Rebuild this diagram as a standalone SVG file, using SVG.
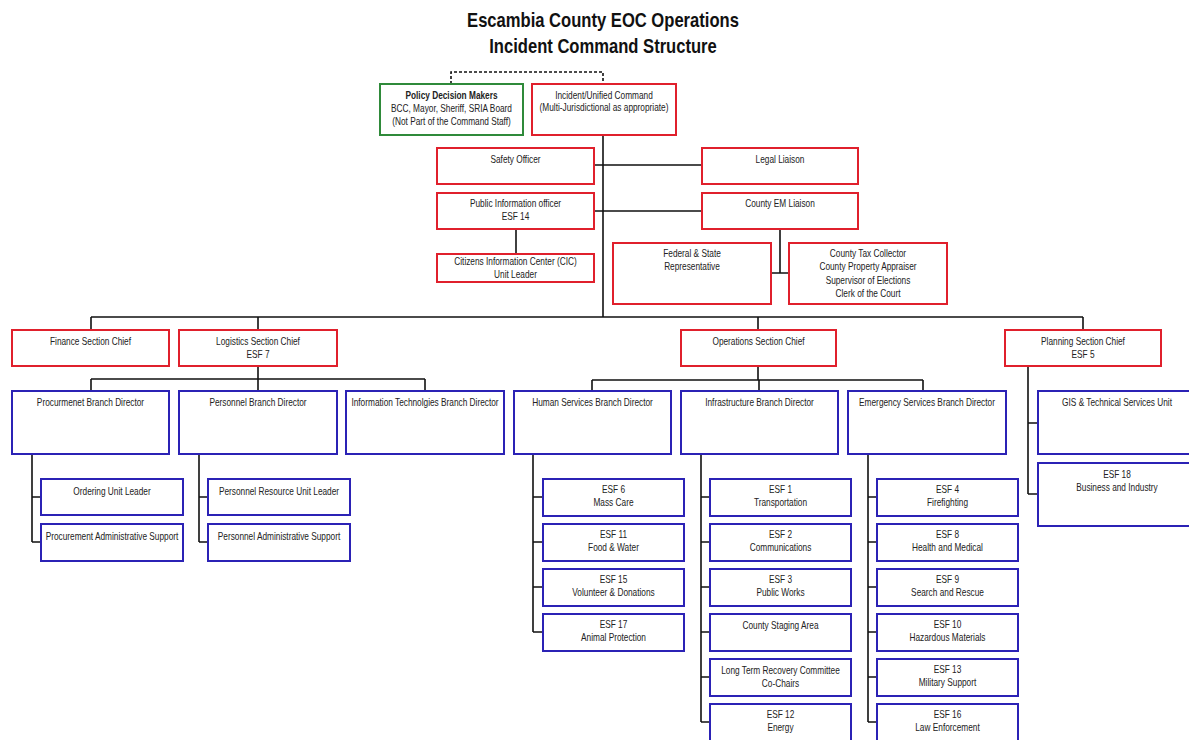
<svg xmlns="http://www.w3.org/2000/svg" width="1189" height="740" viewBox="0 0 1189 740">
<style>
  .t { font-family: "Liberation Sans", Arial, sans-serif; font-size: 10px; fill: #222; text-anchor: middle; }
  .h { font-family: "Liberation Sans", Arial, sans-serif; font-size: 20px; font-weight: bold; fill: #111; text-anchor: middle; }
  .bold { font-weight: bold; }
  .r { fill: #fff; stroke: #e0202c; stroke-width: 2; }
  .b { fill: #fff; stroke: #2b22b5; stroke-width: 2; }
  .g { fill: #fff; stroke: #2f8a3a; stroke-width: 2; }
  .c { fill: none; stroke: #111; stroke-width: 1.6; }
  .d { fill: none; stroke: #111; stroke-width: 1.6; stroke-dasharray: 3 2; }
</style>
<rect width="1189" height="740" fill="#fff"/>

<!-- heading -->
<g id="title">
  <text class="h" transform="translate(603 27) scale(.83 1)">Escambia County EOC Operations</text>
  <text class="h" transform="translate(603 53) scale(.83 1)">Incident Command Structure</text>
</g>

<!-- connector lines -->
<g id="connectors">
  <path class="d" d="M451 84 V72 H603 V84"/>
  <path class="c" d="M603 134 V317"/>
  <path class="c" d="M594 165 H702 M594 211 H702"/>
  <path class="c" d="M516 229 V254"/>
  <path class="c" d="M780 229 V273 M771 273 H789"/>
  <path class="c" d="M91 317 H1083 M91 317 V330 M258 317 V330 M758 317 V330 M1083 317 V330"/>
  <path class="c" d="M258 366 V379 M91 379 H425 M91 379 V391 M258 379 V391 M425 379 V391"/>
  <path class="c" d="M758 366 V380 M592 380 H923 M592 380 V391 M759 380 V391 M923 380 V391"/>
  <path class="c" d="M1028 366 V494 M1028 423 H1038 M1028 494 H1038"/>
  <path class="c" d="M32 454 V542 M32 497 H41 M32 542 H41"/>
  <path class="c" d="M199 454 V542 M199 497 H208 M199 542 H208"/>
  <path class="c" d="M533 454 V632 M533 497 H543 M533 542 H543 M533 587 H543 M533 632 H543"/>
  <path class="c" d="M701 454 V722 M701 497 H710 M701 542 H710 M701 587 H710 M701 632 H710 M701 677 H710 M701 722 H710"/>
  <path class="c" d="M868 454 V722 M868 497 H877 M868 542 H877 M868 587 H877 M868 632 H877 M868 677 H877 M868 722 H877"/>
</g>

<!-- command level -->
<g id="policy">
  <rect class="g" x="380" y="84" width="143" height="51"/>
  <text class="t" transform="translate(451.5 99) scale(.83 1)"><tspan x="0" class="bold">Policy Decision Makers</tspan><tspan x="0" dy="13">BCC, Mayor, Sheriff, SRIA Board</tspan><tspan x="0" dy="13">(Not Part of the Command Staff)</tspan></text>
</g>
<g id="incident-command">
  <rect class="r" x="532" y="84" width="144" height="51"/>
  <text class="t" transform="translate(604 99) scale(.83 1)"><tspan x="0">Incident/Unified Command</tspan><tspan x="0" dy="12.5">(Multi-Jurisdictional as appropriate)</tspan></text>
</g>
<g id="safety">
  <rect class="r" x="437" y="148" width="157" height="36"/>
  <text class="t" transform="translate(515.5 163) scale(.83 1)">Safety Officer</text>
</g>
<g id="legal">
  <rect class="r" x="702" y="148" width="156" height="36"/>
  <text class="t" transform="translate(780 163) scale(.83 1)">Legal Liaison</text>
</g>
<g id="pio">
  <rect class="r" x="437" y="193" width="157" height="36"/>
  <text class="t" transform="translate(515.5 207) scale(.83 1)"><tspan x="0">Public Information officer</tspan><tspan x="0" dy="13.5">ESF 14</tspan></text>
</g>
<g id="em-liaison">
  <rect class="r" x="702" y="193" width="156" height="36"/>
  <text class="t" transform="translate(780 207) scale(.83 1)">County EM Liaison</text>
</g>
<g id="cic">
  <rect class="r" x="437" y="254" width="157" height="28"/>
  <text class="t" transform="translate(515.5 265) scale(.83 1)"><tspan x="0">Citizens Information Center (CIC)</tspan><tspan x="0" dy="13">Unit Leader</tspan></text>
</g>
<g id="federal-state">
  <rect class="r" x="613" y="243" width="158" height="61"/>
  <text class="t" transform="translate(692 257) scale(.83 1)"><tspan x="0">Federal &amp; State</tspan><tspan x="0" dy="13.5">Representative</tspan></text>
</g>
<g id="county-officials">
  <rect class="r" x="789" y="243" width="158" height="61"/>
  <text class="t" transform="translate(868 257) scale(.83 1)"><tspan x="0">County Tax Collector</tspan><tspan x="0" dy="13.5">County Property Appraiser</tspan><tspan x="0" dy="13.5">Supervisor of Elections</tspan><tspan x="0" dy="13.5">Clerk of the Court</tspan></text>
</g>

<!-- section chiefs -->
<g id="finance">
  <rect class="r" x="12" y="330" width="157" height="36"/>
  <text class="t" transform="translate(90.5 345) scale(.83 1)">Finance Section Chief</text>
</g>
<g id="logistics">
  <rect class="r" x="179" y="330" width="158" height="36"/>
  <text class="t" transform="translate(258 345) scale(.83 1)"><tspan x="0">Logistics Section Chief</tspan><tspan x="0" dy="13.5">ESF 7</tspan></text>
</g>
<g id="operations">
  <rect class="r" x="681" y="330" width="155" height="36"/>
  <text class="t" transform="translate(758.5 345) scale(.83 1)">Operations Section Chief</text>
</g>
<g id="planning">
  <rect class="r" x="1005" y="330" width="156" height="36"/>
  <text class="t" transform="translate(1083 345) scale(.83 1)"><tspan x="0">Planning Section Chief</tspan><tspan x="0" dy="13.5">ESF 5</tspan></text>
</g>

<!-- branch directors -->
<g id="procurement-bd">
  <rect class="b" x="12" y="391" width="157" height="63"/>
  <text class="t" transform="translate(90.5 406) scale(.83 1)">Procurmenet Branch Director</text>
</g>
<g id="personnel-bd">
  <rect class="b" x="179" y="391" width="158" height="63"/>
  <text class="t" transform="translate(258 406) scale(.83 1)">Personnel Branch Director</text>
</g>
<g id="it-bd">
  <rect class="b" x="346" y="391" width="158" height="63"/>
  <text class="t" transform="translate(425 406) scale(.83 1)">Information Technolgies Branch Director</text>
</g>
<g id="human-services-bd">
  <rect class="b" x="514" y="391" width="157" height="63"/>
  <text class="t" transform="translate(592.5 406) scale(.83 1)">Human Services Branch Director</text>
</g>
<g id="infrastructure-bd">
  <rect class="b" x="681" y="391" width="157" height="63"/>
  <text class="t" transform="translate(759.5 406) scale(.83 1)">Infrastructure Branch Director</text>
</g>
<g id="emergency-bd">
  <rect class="b" x="848" y="391" width="158" height="63"/>
  <text class="t" transform="translate(927 406) scale(.83 1)">Emergency Services Branch Director</text>
</g>
<g id="gis">
  <rect class="b" x="1038" y="391" width="158" height="63"/>
  <text class="t" transform="translate(1117 406) scale(.83 1)">GIS &amp; Technical Services Unit</text>
</g>
<g id="esf18">
  <rect class="b" x="1038" y="463" width="158" height="63"/>
  <text class="t" transform="translate(1117 478) scale(.83 1)"><tspan x="0">ESF 18</tspan><tspan x="0" dy="13.5">Business and Industry</tspan></text>
</g>

<!-- logistics units -->
<g id="ordering">
  <rect class="b" x="41" y="479" width="142" height="36"/>
  <text class="t" transform="translate(112 494.5) scale(.83 1)">Ordering Unit Leader</text>
</g>
<g id="procurement-admin">
  <rect class="b" x="41" y="524" width="142" height="37"/>
  <text class="t" transform="translate(112 539.5) scale(.83 1)">Procurement Administrative Support</text>
</g>
<g id="personnel-resource">
  <rect class="b" x="208" y="479" width="142" height="36"/>
  <text class="t" transform="translate(279 494.5) scale(.83 1)">Personnel Resource Unit Leader</text>
</g>
<g id="personnel-admin">
  <rect class="b" x="208" y="524" width="142" height="37"/>
  <text class="t" transform="translate(279 539.5) scale(.83 1)">Personnel Administrative Support</text>
</g>

<!-- human services ESFs -->
<g id="esf6">
  <rect class="b" x="543" y="479" width="141" height="37"/>
  <text class="t" transform="translate(613.5 493) scale(.83 1)"><tspan x="0">ESF 6</tspan><tspan x="0" dy="13.5">Mass Care</tspan></text>
</g>
<g id="esf11">
  <rect class="b" x="543" y="524" width="141" height="37"/>
  <text class="t" transform="translate(613.5 538) scale(.83 1)"><tspan x="0">ESF 11</tspan><tspan x="0" dy="13.5">Food &amp; Water</tspan></text>
</g>
<g id="esf15">
  <rect class="b" x="543" y="569" width="141" height="37"/>
  <text class="t" transform="translate(613.5 583) scale(.83 1)"><tspan x="0">ESF 15</tspan><tspan x="0" dy="13.5">Volunteer &amp; Donations</tspan></text>
</g>
<g id="esf17">
  <rect class="b" x="543" y="614" width="141" height="37"/>
  <text class="t" transform="translate(613.5 628) scale(.83 1)"><tspan x="0">ESF 17</tspan><tspan x="0" dy="13.5">Animal Protection</tspan></text>
</g>

<!-- infrastructure ESFs -->
<g id="esf1">
  <rect class="b" x="710" y="479" width="141" height="37"/>
  <text class="t" transform="translate(780.5 493) scale(.83 1)"><tspan x="0">ESF 1</tspan><tspan x="0" dy="13.5">Transportation</tspan></text>
</g>
<g id="esf2">
  <rect class="b" x="710" y="524" width="141" height="37"/>
  <text class="t" transform="translate(780.5 538) scale(.83 1)"><tspan x="0">ESF 2</tspan><tspan x="0" dy="13.5">Communications</tspan></text>
</g>
<g id="esf3">
  <rect class="b" x="710" y="569" width="141" height="37"/>
  <text class="t" transform="translate(780.5 583) scale(.83 1)"><tspan x="0">ESF 3</tspan><tspan x="0" dy="13.5">Public Works</tspan></text>
</g>
<g id="staging">
  <rect class="b" x="710" y="614" width="141" height="37"/>
  <text class="t" transform="translate(780.5 629) scale(.83 1)">County Staging Area</text>
</g>
<g id="ltrc">
  <rect class="b" x="710" y="659" width="141" height="37"/>
  <text class="t" transform="translate(780.5 674) scale(.83 1)"><tspan x="0">Long Term Recovery Committee</tspan><tspan x="0" dy="13">Co-Chairs</tspan></text>
</g>
<g id="esf12">
  <rect class="b" x="710" y="704" width="141" height="37"/>
  <text class="t" transform="translate(780.5 718) scale(.83 1)"><tspan x="0">ESF 12</tspan><tspan x="0" dy="13.5">Energy</tspan></text>
</g>

<!-- emergency services ESFs -->
<g id="esf4">
  <rect class="b" x="877" y="479" width="141" height="37"/>
  <text class="t" transform="translate(947.5 493) scale(.83 1)"><tspan x="0">ESF 4</tspan><tspan x="0" dy="13.5">Firefighting</tspan></text>
</g>
<g id="esf8">
  <rect class="b" x="877" y="524" width="141" height="37"/>
  <text class="t" transform="translate(947.5 538) scale(.83 1)"><tspan x="0">ESF 8</tspan><tspan x="0" dy="13.5">Health and Medical</tspan></text>
</g>
<g id="esf9">
  <rect class="b" x="877" y="569" width="141" height="37"/>
  <text class="t" transform="translate(947.5 583) scale(.83 1)"><tspan x="0">ESF 9</tspan><tspan x="0" dy="13.5">Search and Rescue</tspan></text>
</g>
<g id="esf10">
  <rect class="b" x="877" y="614" width="141" height="37"/>
  <text class="t" transform="translate(947.5 628) scale(.83 1)"><tspan x="0">ESF 10</tspan><tspan x="0" dy="13.5">Hazardous Materials</tspan></text>
</g>
<g id="esf13">
  <rect class="b" x="877" y="659" width="141" height="37"/>
  <text class="t" transform="translate(947.5 673) scale(.83 1)"><tspan x="0">ESF 13</tspan><tspan x="0" dy="13.5">Military Support</tspan></text>
</g>
<g id="esf16">
  <rect class="b" x="877" y="704" width="141" height="37"/>
  <text class="t" transform="translate(947.5 718) scale(.83 1)"><tspan x="0">ESF 16</tspan><tspan x="0" dy="13.5">Law Enforcement</tspan></text>
</g>
</svg>
